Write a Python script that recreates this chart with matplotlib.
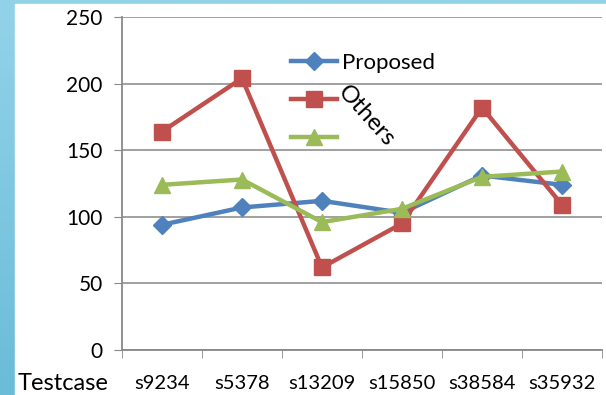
import numpy as np
import matplotlib
matplotlib.use('Agg')
from matplotlib import pyplot as plt
from matplotlib.patches import Rectangle

testcases = ['s9234', 's5378', 's13209', 's15850', 's38584', 's35932']
proposed = [94, 107, 112, 103, 131, 124]
others = [164, 204, 62, 95, 182, 109]
third = [124, 128, 96, 106, 130, 134]

blue = '#4F81BD'
red = '#C0504D'
green = '#9BBB59'

plt.rcParams['font.family'] = ['Lato', 'DejaVu Sans']

W, H = 606, 395
fig = plt.figure(figsize=(W / 100, H / 100), dpi=100)

# blue frame (gradient) behind a white slide area
bg = fig.add_axes([0, 0, 1, 1], zorder=-10)
grad = np.linspace(0, 1, 256).reshape(-1, 1)
bg.imshow(grad, aspect='auto', extent=[0, 1, 0, 1],
          cmap=matplotlib.colors.LinearSegmentedColormap.from_list('b', ['#6ABCD9', '#93D3E9']),
          origin='lower')
bg.add_patch(Rectangle((15 / W, 0), 1, 1 - 4 / H, color='white'))
bg.set_xlim(0, 1)
bg.set_ylim(0, 1)
bg.axis('off')

ax = fig.add_axes([122 / W, 1 - 350 / H, 480 / W, 333 / H])
ax.patch.set_alpha(0)
x = np.arange(len(testcases))

l1, = ax.plot(x, proposed, color=blue, lw=3.2, marker='D', ms=9, label='Proposed')
l2, = ax.plot(x, others, color=red, lw=3.2, marker='s', ms=11, label=' ')
l3, = ax.plot(x, third, color=green, lw=3.2, marker='^', ms=12, label=' ')

ax.set_xlim(-0.5, len(testcases) - 0.5)
ax.set_ylim(0, 250)
ax.set_yticks([0, 50, 100, 150, 200, 250])
ax.set_xticks(x)
ax.set_xticklabels(testcases)
ax.set_xticks(np.arange(-0.5, len(testcases)), minor=True)
ax.tick_params(axis='x', which='major', length=0, pad=18, labelsize=14.5)
ax.tick_params(axis='x', which='minor', length=6, color='#888888')
ax.tick_params(axis='y', length=6, color='#888888', labelsize=15, pad=8)

ax.grid(axis='y', color='#999999', lw=1.3)
ax.set_axisbelow(True)
for s in ['top', 'right']:
    ax.spines[s].set_visible(False)
for s in ['left', 'bottom']:
    ax.spines[s].set_color('#888888')
    ax.spines[s].set_linewidth(1.3)

fig.text(18 / W, 1 - 384 / H, 'Testcase', fontsize=17, va='center', ha='left')

leg = ax.legend(handles=[l1, l2, l3], loc='upper left', frameon=False,
                bbox_to_anchor=(271 / W, 1 - 33 / H), bbox_transform=fig.transFigure,
                fontsize=16, handlelength=2.05, labelspacing=0.8, handletextpad=0.25)

fig.text(366 / W, 1 - 116 / H, 'Others', fontsize=17.5, rotation=-48,
         ha='center', va='center', rotation_mode='anchor')

fig.savefig('out.png', dpi=100)
